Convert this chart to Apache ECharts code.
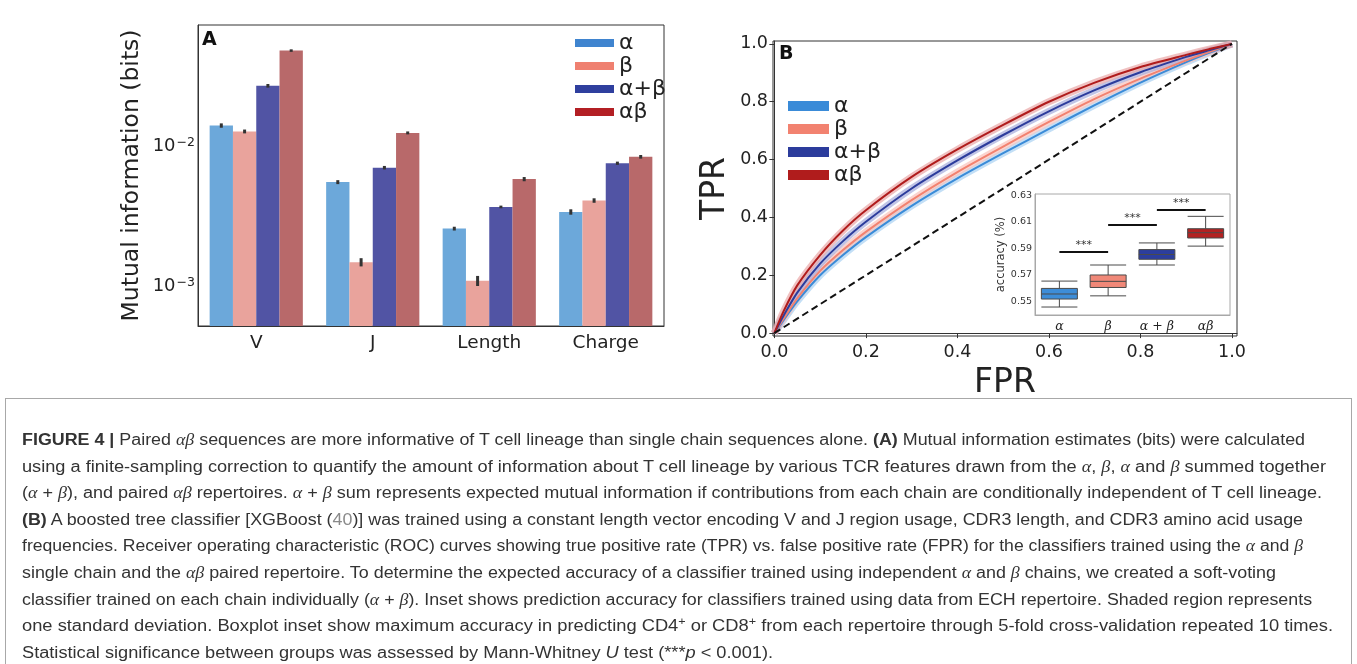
<!DOCTYPE html>
<html>
<head>
<meta charset="utf-8">
<script src="https://cdn.jsdelivr.net/npm/echarts@6/dist/echarts.min.js"></script>
<style>
html, body { margin: 0; padding: 0; background: #fff; }
#main { position: absolute; left: 0; top: 0; width: 1357px; height: 664px; }
#cap { position: absolute; left: 5px; top: 398px; width: 1347px; height: 290px; border: 1px solid #a8a8a8; box-sizing: border-box; }
.ln { position: absolute; white-space: nowrap; font-family: "Liberation Sans", Arial, sans-serif; font-size: 16px; line-height: 20px; color: #333; transform-origin: 0 0; }
.ln i.m { font-family: "Liberation Serif", serif; }
.ln .ref { color: #8a8a8a; }
.ln sup { font-size: 11px; line-height: 0; vertical-align: 6px; }
</style>
</head>
<body>
<div id="main"></div>
<div id="cap"></div>
<script>
// panel A: mutual information (bits), log scale
var features = ['V', 'J', 'Length', 'Charge'];
var groups = ['α', 'β', 'α+β', 'αβ'];
var miAlpha  = [0.0140, 0.00552, 0.00257, 0.00338];
var miBeta   = [0.0127, 0.00148, 0.00109, 0.00408];
var miSum    = [0.0269, 0.00700, 0.00367, 0.00753];
var miPaired = [0.0480, 0.01240, 0.00580, 0.00837];
var errAlpha  = [0.0005, 0.00018, 0.00008, 0.00015];
var errBeta   = [0.0004, 0.00010, 0.00009, 0.00015];
var errSum    = [0.0008, 0.00020, 0.00008, 0.00020];
var errPaired = [0.0010, 0.00030, 0.00020, 0.00025];
var majorTicksA = [0.001, 0.01];
var minorTicksA = [0.0006, 0.0007, 0.0008, 0.0009, 0.002, 0.003, 0.004, 0.005, 0.006, 0.007, 0.008, 0.009, 0.02, 0.03, 0.04, 0.05, 0.06, 0.07];

// panel B: ROC curves
var fpr       = [0, 0.02, 0.05, 0.1, 0.15, 0.2, 0.3, 0.4, 0.5, 0.6, 0.7, 0.8, 0.9, 0.95, 1];
var tprAlpha  = [0, 0.045, 0.11, 0.2, 0.27, 0.332, 0.44, 0.535, 0.622, 0.706, 0.788, 0.866, 0.937, 0.969, 1];
var tprBeta   = [0, 0.05, 0.12, 0.215, 0.287, 0.35, 0.46, 0.557, 0.645, 0.73, 0.81, 0.88, 0.943, 0.972, 1];
var tprSum    = [0, 0.06, 0.14, 0.24, 0.318, 0.385, 0.50, 0.597, 0.685, 0.767, 0.84, 0.902, 0.955, 0.978, 1];
var tprPaired = [0, 0.075, 0.165, 0.27, 0.355, 0.425, 0.54, 0.635, 0.72, 0.80, 0.866, 0.92, 0.962, 0.982, 1];
var chance    = [0, 1];
var ticksB    = [0, 0.2, 0.4, 0.6, 0.8, 1.0];

// inset: accuracy boxplots [min, Q1, median, Q3, max]
var insetLabels = ['α', 'β', 'α + β', 'αβ'];
var accAlpha  = [0.5458, 0.5518, 0.5556, 0.5598, 0.5653];
var accBeta   = [0.5542, 0.5605, 0.5651, 0.5699, 0.5774];
var accSum    = [0.5774, 0.5817, 0.5853, 0.5890, 0.5940];
var accPaired = [0.5916, 0.5977, 0.6017, 0.6047, 0.6140];
var sigLevels = [0.5875, 0.6078, 0.6191];
var insetTicks = [0.55, 0.57, 0.59, 0.61, 0.63];

var barColors = ['#6ca8da', '#e9a39c', '#5154a4', '#b8696a'];
var legendColorsA = ['#3f84cf', '#ef8070', '#2f3f9e', '#b31f24'];
var lineColors = ['#3a8bd8', '#f28270', '#2c3c9c', '#b01c1c'];
var bandColors = ['#a9d2f2', '#f9c2ba', '#a7acdc', '#eaa6a6'];
var boxColors = ['#3d8dd8', '#f08878', '#2c3e9e', '#b32222'];

var font = 'DejaVu Sans';
var myChart = echarts.init(document.getElementById('main'));

function barSeries(name, vals, errs, slot) {
  return {
    type: 'custom',
    name: name,
    xAxisIndex: 0,
    yAxisIndex: 0,
    itemStyle: { color: barColors[slot] },
    encode: { x: 0, y: 1 },
    data: vals.map(function (v, i) { return [i, v, errs[i]]; }),
    renderItem: function (params, api) {
      var cs = params.coordSys;
      var ci = api.value(0), v = api.value(1), e = api.value(2);
      var top = api.coord([ci, v]);
      var bw = cs.width / features.length * 0.2;
      var x = top[0] + (slot - 2) * bw;
      var hi = api.coord([ci, v + e])[1];
      var lo = api.coord([ci, v - e])[1];
      return {
        type: 'group',
        children: [
          { type: 'rect', shape: { x: x, y: top[1], width: bw, height: cs.y + cs.height - top[1] }, style: { fill: barColors[slot] } },
          { type: 'line', shape: { x1: x + bw / 2, y1: hi, x2: x + bw / 2, y2: lo }, style: { stroke: '#333', lineWidth: 3 } }
        ]
      };
    }
  };
}

function pairs(ys) {
  return fpr.map(function (x, i) { return [x, ys[i]]; });
}

function rocSeries(name, ys, k) {
  return [{
    type: 'line', name: name + ' sd', xAxisIndex: 1, yAxisIndex: 2,
    data: pairs(ys), showSymbol: false, smooth: 0.25, silent: true, z: 2,
    lineStyle: { color: bandColors[k], width: 7, opacity: 0.7 }
  }, {
    type: 'line', name: name, xAxisIndex: 1, yAxisIndex: 2,
    data: pairs(ys), showSymbol: false, smooth: 0.25, z: 3,
    itemStyle: { color: lineColors[k] },
    lineStyle: { color: lineColors[k], width: 2 }
  }];
}

function boxItem(v, k) {
  return { value: v, itemStyle: { color: boxColors[k], borderColor: '#4a4a4a', borderWidth: 1 } };
}

function supLabel(v) {
  var e = Math.round(Math.log(v) / Math.LN10);
  return '{b|10}{s|−' + (-e) + '}';
}

var option = {
  animation: false,
  textStyle: { fontFamily: font },
  grid: [
    { left: 198, top: 25, width: 466, height: 301, show: true, borderColor: '#333', borderWidth: 1 },
    { left: 773, top: 41, width: 464, height: 295, show: true, borderColor: '#333', borderWidth: 1 },
    { left: 1035, top: 194, width: 195, height: 121, show: true, borderColor: '#a8a8a8', borderWidth: 1, backgroundColor: '#fff', z: 5 }
  ],
  xAxis: [
    {
      gridIndex: 0, type: 'category', data: features,
      axisLine: { lineStyle: { color: '#333' } },
      axisTick: { alignWithLabel: true, length: 5, lineStyle: { color: '#333' } },
      axisLabel: { fontSize: 18.5, color: '#222', margin: 8 }
    },
    {
      gridIndex: 1, type: 'value', min: -0.003, max: 1.011,
      splitLine: { show: false },
      axisLine: { lineStyle: { color: '#333' } },
      axisTick: { customValues: ticksB, length: 5, lineStyle: { color: '#333' } },
      axisLabel: { customValues: ticksB, fontSize: 17.5, color: '#222', margin: 7, formatter: function (v) { return v.toFixed(1); } },
      name: 'FPR', nameLocation: 'middle', nameGap: 31, nameTextStyle: { fontSize: 33, color: '#222' }
    },
    {
      gridIndex: 2, type: 'category', data: insetLabels, z: 6,
      axisLine: { lineStyle: { color: '#a8a8a8' } },
      axisTick: { alignWithLabel: true, length: 3, lineStyle: { color: '#555' } },
      axisLabel: { fontSize: 12.5, fontStyle: 'italic', fontFamily: 'DejaVu Serif', color: '#222', margin: 5 }
    }
  ],
  yAxis: [
    {
      gridIndex: 0, type: 'log', min: 0.000518, max: 0.0731,
      splitLine: { show: false },
      axisLine: { show: true, lineStyle: { color: '#333' } },
      axisTick: { customValues: majorTicksA, length: 6, lineStyle: { color: '#333' } },
      axisLabel: {
        customValues: majorTicksA, margin: 3, formatter: supLabel,
        rich: {
          b: { fontSize: 18, color: '#222', fontFamily: font },
          s: { fontSize: 12.5, color: '#222', fontFamily: font, verticalAlign: 'top', padding: [0, 0, 6, 1] }
        }
      },
      name: 'Mutual information (bits)', nameLocation: 'middle', nameRotate: 90, nameGap: 54,
      nameTextStyle: { fontSize: 23.5, color: '#222' }
    },
    {
      gridIndex: 0, type: 'log', min: 0.000518, max: 0.0731,
      splitLine: { show: false },
      axisLine: { show: false },
      axisTick: { customValues: minorTicksA, length: 3.5, lineStyle: { color: '#333' } },
      axisLabel: { show: false }
    },
    {
      gridIndex: 1, type: 'value', min: -0.01, max: 1.01,
      splitLine: { show: false },
      axisLine: { show: true, lineStyle: { color: '#333' } },
      axisTick: { customValues: ticksB, length: 5, lineStyle: { color: '#333' } },
      axisLabel: { customValues: ticksB, fontSize: 17.5, color: '#222', margin: 5, formatter: function (v) { return v.toFixed(1); } },
      name: 'TPR', nameLocation: 'middle', nameRotate: 90, nameGap: 41, nameTextStyle: { fontSize: 33, color: '#222' }
    },
    {
      gridIndex: 2, type: 'value', min: 0.5398, max: 0.6308, z: 6,
      splitLine: { show: false },
      axisLine: { show: true, lineStyle: { color: '#a8a8a8' } },
      axisTick: { customValues: insetTicks, length: 3, lineStyle: { color: '#555' } },
      axisLabel: { customValues: insetTicks, fontSize: 9.5, color: '#333', margin: 3, formatter: function (v) { return v.toFixed(2); } },
      name: 'accuracy (%)', nameLocation: 'middle', nameRotate: 90, nameGap: 25, nameTextStyle: { fontSize: 11.5, color: '#333' }
    }
  ],
  legend: [
    {
      orient: 'vertical', left: 570, top: 27, itemWidth: 39, itemHeight: 8, itemGap: 1, selectedMode: false,
      textStyle: { fontSize: 22, lineHeight: 22, color: '#222', fontFamily: font },
      data: groups.map(function (g, i) { return { name: g, icon: 'rect', itemStyle: { color: legendColorsA[i] } }; })
    },
    {
      orient: 'vertical', left: 783, top: 90, itemWidth: 41, itemHeight: 10, itemGap: 1, selectedMode: false,
      textStyle: { fontSize: 22, lineHeight: 22, color: '#222', fontFamily: font },
      data: groups.map(function (g, i) { return { name: g, icon: 'rect', itemStyle: { color: lineColors[i] } }; })
    }
  ],
  graphic: [
    { type: 'text', left: 202, top: 31, style: { text: 'A', font: 'bold 19px "DejaVu Sans"', fill: '#111' } },
    { type: 'text', left: 779, top: 45, style: { text: 'B', font: 'bold 19px "DejaVu Sans"', fill: '#111' } }
  ],
  series: [
    barSeries('α', miAlpha, errAlpha, 0),
    barSeries('β', miBeta, errBeta, 1),
    barSeries('α+β', miSum, errSum, 2),
    barSeries('αβ', miPaired, errPaired, 3),
    {
      type: 'line', name: 'chance', xAxisIndex: 1, yAxisIndex: 2, silent: true, z: 4,
      data: chance.map(function (v) { return [v, v]; }), showSymbol: false,
      lineStyle: { color: '#111', width: 2, type: [7, 4] }
    }
  ].concat(
    rocSeries('α', tprAlpha, 0),
    rocSeries('β', tprBeta, 1),
    rocSeries('α+β', tprSum, 2),
    rocSeries('αβ', tprPaired, 3),
    [{
      type: 'boxplot', name: 'accuracy', xAxisIndex: 2, yAxisIndex: 3, z: 6, boxWidth: [36, 36],
      data: [boxItem(accAlpha, 0), boxItem(accBeta, 1), boxItem(accSum, 2), boxItem(accPaired, 3)]
    }, {
      type: 'line', name: 'sig', xAxisIndex: 2, yAxisIndex: 3, z: 6, data: [],
      markLine: {
        symbol: 'none', silent: true,
        lineStyle: { color: '#111', width: 2, type: 'solid' },
        label: { show: true, position: 'middle', formatter: '***', fontSize: 11, color: '#333', distance: 1 },
        data: sigLevels.map(function (lv, i) {
          return [{ coord: [insetLabels[i], lv] }, { coord: [insetLabels[i + 1], lv] }];
        })
      }
    }]
  )
};
myChart.setOption(option);

// caption, one line per reference line
var capLines = [
  ['<b>FIGURE 4 |</b> Paired <i class="m">αβ</i> sequences are more informative of T cell lineage than single chain sequences alone. <b>(A)</b> Mutual information estimates (bits) were calculated', 1305],
  ['using a finite-sampling correction to quantify the amount of information about T cell lineage by various TCR features drawn from the <i class="m">α</i>, <i class="m">β</i>, <i class="m">α</i> and <i class="m">β</i> summed together', 1326],
  ['(<i class="m">α</i> + <i class="m">β</i>), and paired <i class="m">αβ</i> repertoires. <i class="m">α</i> + <i class="m">β</i> sum represents expected mutual information if contributions from each chain are conditionally independent of T cell lineage.', 1322],
  ['<b>(B)</b> A boosted tree classifier [XGBoost (<span class="ref">40</span>)] was trained using a constant length vector encoding V and J region usage, CDR3 length, and CDR3 amino acid usage', 1303],
  ['frequencies. Receiver operating characteristic (ROC) curves showing true positive rate (TPR) vs. false positive rate (FPR) for the classifiers trained using the <i class="m">α</i> and <i class="m">β</i>', 1303],
  ['single chain and the <i class="m">αβ</i> paired repertoire. To determine the expected accuracy of a classifier trained using independent <i class="m">α</i> and <i class="m">β</i> chains, we created a soft-voting', 1276],
  ['classifier trained on each chain individually (<i class="m">α</i> + <i class="m">β</i>). Inset shows prediction accuracy for classifiers trained using data from ECH repertoire. Shaded region represents', 1312],
  ['one standard deviation. Boxplot inset show maximum accuracy in predicting CD4<sup>+</sup> or CD8<sup>+</sup> from each repertoire through 5-fold cross-validation repeated 10 times.', 1333],
  ['Statistical significance between groups was assessed by Mann-Whitney <i>U</i> test (***<i>p</i> &lt; 0.001).', 773]
];
var capStart = 22;
var cap = document.getElementById('cap');
capLines.forEach(function (l, i) {
  var d = document.createElement('div');
  d.className = 'ln';
  d.innerHTML = l[0];
  d.style.left = (capStart - 6) + 'px';
  d.style.top = (440 + i * 26.6 - 10 - 399) + 'px';
  cap.appendChild(d);
  var w = d.getBoundingClientRect().width;
  d.style.transform = 'scaleX(' + ((l[1] - capStart) / w).toFixed(4) + ')';
});
</script>
</body>
</html>
